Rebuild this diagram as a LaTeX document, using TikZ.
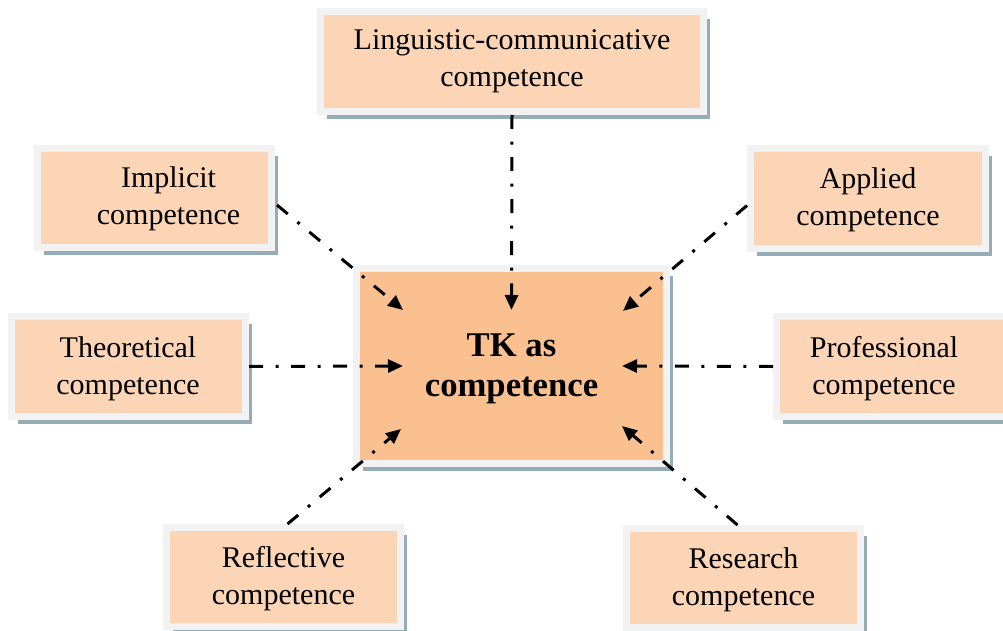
\documentclass[tikz,border=0pt]{standalone}
\usepackage{fontspec}
\setmainfont{Liberation Serif}
\usetikzlibrary{arrows.meta,fit,shadows}
\definecolor{framegray}{HTML}{F2F2F2}
\definecolor{peach}{HTML}{FBD5B5}
\definecolor{peachdark}{HTML}{FAC090}
\definecolor{shadowcol}{HTML}{95ABB6}
\begin{document}
\begin{tikzpicture}[x=0.75pt,y=-0.75pt,
  box/.style={draw=framegray, line width=5.25pt, fill=peach, inner sep=0pt,
     general shadow={fill=shadowcol, shadow xshift=4.875pt, shadow yshift=-5.625pt}},
  centerbox/.style={box, fill=peachdark},
  lbl/.style={align=center, font=\fontsize{22.5}{27.75}\selectfont, inner sep=0pt},
  titlelbl/.style={align=center, font=\bfseries\fontsize{26}{30}\selectfont, inner sep=0pt},
  conn/.style={line width=2.25pt, dash pattern=on 10.5pt off 9.4pt on 2.25pt off 9.4pt,
     -{Triangle[length=11.25pt,width=9.75pt]}}
]
\clip (0,0) rectangle (1003,631);
\fill[white] (0,0) rectangle (1003,631);
% boxes
\node[box, fit={(320.5,11.5) (703.5,111.5)}] (ling) {};
\node[box, fit={(37.5,148.5) (271.5,247.5)}] (imp) {};
\node[box, fit={(11.5,316.5) (245.5,416.5)}] (theo) {};
\node[box, fit={(750.5,148.5) (985.5,248.5)}] (appl) {};
\node[box, fit={(776.5,316.5) (1012,416.5)}] (prof) {};
\node[box, fit={(166.5,527.5) (400.5,626.5)}] (refl) {};
\node[box, fit={(626.5,528.5) (860.5,627.5)}] (res) {};
\node[centerbox, fit={(356.5,268.5) (666.5,463.5)}] (tk) {};
% texts
\node[lbl] (lingT) at (512,61.5) {Linguistic-communicative\\competence};
\node[lbl] (impT) at (168.5,198.5) {Implicit\\competence};
\node[lbl] (theoT) at (128,368.5) {Theoretical\\competence};
\node[lbl] (applT) at (868,199.5) {Applied\\competence};
\node[lbl] (profT) at (884,368.5) {Professional\\competence};
\node[lbl] (reflT) at (283.5,578.5) {Reflective\\competence};
\node[lbl] (resT) at (743.5,579.5) {Research\\competence};
\node[titlelbl] (tkT) at (511.5,369) {TK as\\competence};
% connectors
\draw[conn] (ling.south) -- ([shift={(0,45)}]tk.north);
\draw[conn] ([shift={(2,7)}]imp.east) -- ([shift={(50,45)}]tk.north west);
\draw[conn] ([shift={(0,7)}]appl.west) -- ([shift={(-47,46)}]tk.north east);
\draw[conn] (theo.east) -- ([shift={(50,0)}]tk.west);
\draw[conn] (prof.west) -- ([shift={(-48,0)}]tk.east);
\draw[conn] ([shift={(4,0)}]refl.north) -- ([shift={(48,-38)}]tk.south west);
\draw[conn] ([shift={(-6,0)}]res.north) -- ([shift={(-48,-41)}]tk.south east);
\end{tikzpicture}
\end{document}
